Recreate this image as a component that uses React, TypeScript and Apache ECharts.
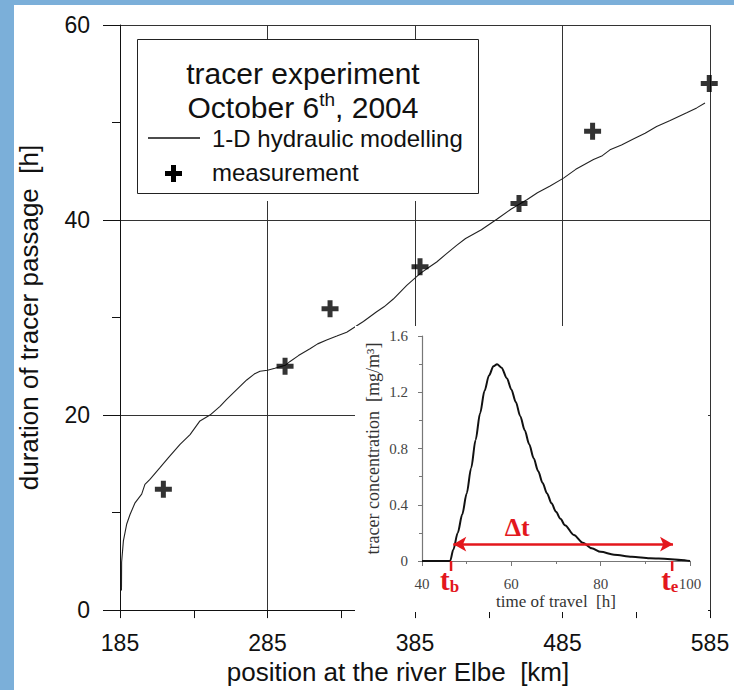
import React, { useEffect, useRef } from "react";
import * as echarts from "echarts";

// ---------- data ----------
const X0 = 185; // first km of the main x axis
const xTickLabels = [185, 285, 385, 485, 585];

const modelKm = [186, 186.1, 187.3, 189.5, 191.8, 195.2, 199.7, 201.9, 205.3, 212.1, 217.7, 225.7, 232.5, 239.2, 246, 252.8, 257.3, 264.1, 270.9, 276, 279.9, 285, 290, 297, 300.3, 306, 313.8, 319, 325.1, 332, 338.7, 345, 350, 359, 364, 370.3, 379.4, 388.4, 394, 399.7, 406, 413.2, 419.3, 430, 440.7, 450, 461.1, 468, 476.6, 485.7, 494, 506, 512, 517.2, 525, 533, 541, 548.8, 558, 569.2, 576, 581.6];
const modelHours = [2.0, 4.9, 7.1, 8.8, 9.8, 11.0, 11.9, 12.9, 13.4, 14.6, 15.6, 17.0, 18.0, 19.4, 20.0, 20.9, 21.6, 22.6, 23.6, 24.2, 24.5, 24.6, 24.8, 25.1, 25.5, 26.1, 26.8, 27.3, 27.7, 28.1, 28.5, 29.1, 29.6, 30.6, 31.1, 31.9, 33.3, 34.5, 35.1, 35.7, 36.5, 37.4, 38.1, 39.0, 40.1, 41.1, 42.1, 42.8, 43.5, 44.3, 45.2, 46.2, 46.6, 47.2, 47.7, 48.3, 48.9, 49.6, 50.2, 51.0, 51.5, 52.0];

const measKm = [214.4, 296.9, 327.4, 388.4, 455.5, 505.4, 584.5];
const measHours = [12.4, 25.0, 30.9, 35.2, 41.7, 49.1, 54.0];

const insetTime = [40, 46.3, 47, 48, 49, 50, 51, 52, 53, 54, 55, 56, 56.8, 57.8, 59, 60, 61, 62, 63, 64, 65, 66, 67, 68, 69, 70, 71, 72, 74, 76, 78, 80, 83, 87, 91, 95, 98, 100];
const insetConc = [0, 0, 0.08, 0.2, 0.33, 0.48, 0.66, 0.86, 1.05, 1.21, 1.32, 1.385, 1.4, 1.375, 1.3, 1.22, 1.13, 1.03, 0.93, 0.83, 0.73, 0.64, 0.555, 0.48, 0.41, 0.35, 0.3, 0.255, 0.185, 0.13, 0.09, 0.065, 0.045, 0.03, 0.02, 0.015, 0.008, 0];

const arrowSpan = [47.0, 96.2];
const arrowLevel = 0.12;
const markTimes = [46.5, 96.0];
const markSubs = ["b", "e"];
const deltaPos = [61.3, 0.235];

const PLUS = "path://M6,0H11V6H17V11H11V17H6V11H0V6H6Z";
const SANS = "Liberation Sans";
const SERIF = "Liberation Serif";
const RED = "#e3171d";
const BLUE = "#7bafd9";

export default function App() {
  const ref = useRef<HTMLDivElement>(null);
  useEffect(() => {
    if (!ref.current) return;
    const chart = echarts.init(ref.current, undefined, { renderer: "svg" });
    const option: any = {
      animation: false,
      backgroundColor: "#fff",
      grid: [
        { left: 120, top: 25, right: 24, bottom: 77, containLabel: false },
        { left: 422, top: 336, width: 268, height: 225, containLabel: false },
      ],
      xAxis: [
        {
          type: "value",
          gridIndex: 0,
          min: 0,
          max: 400,
          interval: 100,
          axisLine: { show: true, onZero: false, lineStyle: { color: "#111", width: 1 } },
          axisTick: { show: true, length: 8, lineStyle: { color: "#111" } },
          minorTick: { show: true, splitNumber: 2, length: 8, lineStyle: { color: "#111" } },
          splitLine: { show: true, lineStyle: { color: "#333", width: 1 } },
          axisLabel: {
            margin: 21,
            fontFamily: SANS,
            fontSize: 23,
            color: "#111",
            formatter: (v: number) => (xTickLabels.includes(v + X0) ? String(v + X0) : ""),
          },
          name: "position at the river Elbe  [km]",
          nameLocation: "middle",
          nameGap: 44,
          nameTextStyle: { fontFamily: SANS, fontSize: 26, color: "#111", padding: [0, 34, 0, 0] },
          z: 0,
        },
        {
          type: "value",
          gridIndex: 1,
          min: 40,
          max: 100,
          interval: 20,
          axisLine: { show: true, onZero: false, lineStyle: { color: "#777", width: 1.2 } },
          axisTick: { show: true, length: 5, lineStyle: { color: "#777" } },
          minorTick: { show: true, splitNumber: 2, length: 3, lineStyle: { color: "#777" } },
          splitLine: { show: false },
          axisLabel: { margin: 15, fontFamily: SERIF, fontSize: 15, color: "#444" },
          name: "time of travel  [h]",
          nameLocation: "middle",
          nameGap: 32,
          nameTextStyle: { fontFamily: SERIF, fontSize: 17, color: "#333" },
          z: 6,
        },
      ],
      yAxis: [
        {
          type: "value",
          gridIndex: 0,
          min: 0,
          max: 60,
          interval: 20,
          axisLine: { show: true, onZero: false, lineStyle: { color: "#111", width: 1 } },
          axisTick: { show: true, length: 17, lineStyle: { color: "#111" } },
          minorTick: { show: true, splitNumber: 2, length: 8, lineStyle: { color: "#111" } },
          splitLine: { show: true, lineStyle: { color: "#333", width: 1 } },
          axisLabel: { margin: 30, fontFamily: SANS, fontSize: 23, color: "#111" },
          name: "duration of tracer passage  [h]",
          nameLocation: "middle",
          nameGap: 78,
          nameTextStyle: { fontFamily: SANS, fontSize: 26, color: "#111" },
          z: 0,
        },
        {
          type: "value",
          gridIndex: 1,
          min: 0,
          max: 1.6,
          interval: 0.4,
          axisLine: { show: true, onZero: false, lineStyle: { color: "#777", width: 1.2 } },
          axisTick: { show: true, length: 4, lineStyle: { color: "#777" } },
          minorTick: { show: true, splitNumber: 2, length: 3, lineStyle: { color: "#777" } },
          splitLine: { show: false },
          axisLabel: {
            margin: 14,
            fontFamily: SERIF,
            fontSize: 15,
            color: "#444",
            formatter: (v: number) => (v === 0 ? "0" : v.toFixed(1)),
          },
          name: "tracer concentration  [mg/m³]",
          nameLocation: "middle",
          nameGap: 40,
          nameTextStyle: { fontFamily: SERIF, fontSize: 18, color: "#333" },
          z: 6,
        },
      ],
      series: [
        {
          name: "1-D hydraulic modelling",
          type: "line",
          xAxisIndex: 0,
          yAxisIndex: 0,
          data: modelKm.map((k, i) => [k - X0, modelHours[i]]),
          showSymbol: false,
          symbol: "none",
          lineStyle: { color: "#222", width: 1.1 },
          z: 2,
        },
        {
          name: "measurement",
          type: "scatter",
          xAxisIndex: 0,
          yAxisIndex: 0,
          data: measKm.map((k, i) => [k - X0, measHours[i]]),
          symbol: PLUS,
          symbolSize: 17,
          itemStyle: { color: "#000" },
          clip: false,
          z: 3,
        },
        {
          name: "tracer concentration",
          type: "line",
          xAxisIndex: 1,
          yAxisIndex: 1,
          data: insetTime.map((t, i) => [t, insetConc[i]]),
          showSymbol: false,
          symbol: "none",
          smooth: 0.3,
          smoothMonotone: "x",
          lineStyle: { color: "#111", width: 2 },
          z: 7,
          markLine: {
            silent: true,
            symbol: ["arrow", "arrow"],
            symbolSize: [11, 13],
            label: { show: false },
            lineStyle: { color: RED, width: 2.5, type: "solid" },
            data: [[{ coord: [arrowSpan[0], arrowLevel] }, { coord: [arrowSpan[1], arrowLevel] }]],
            z: 8,
          },
        },
      ],
    };
    chart.setOption(option);

    const g: any[] = [];
    // blue frame bands
    g.push({ type: "rect", shape: { x: 0, y: 0, width: 14, height: 690 }, style: { fill: BLUE }, z: 20 });
    g.push({ type: "rect", shape: { x: 0, y: 0, width: 734, height: 5 }, style: { fill: BLUE }, z: 20 });
    // inset white background
    g.push({ type: "rect", shape: { x: 355, y: 326, width: 353, height: 286 }, style: { fill: "#fff" }, z: 5 });
    // legend box
    g.push({ type: "rect", shape: { x: 137, y: 39, width: 341, height: 162 }, style: { fill: "#fff" }, z: 5 });
    g.push({ type: "rect", shape: { x: 137.5, y: 39.5, width: 341, height: 154 }, style: { fill: "#fff", stroke: "#222", lineWidth: 1 }, z: 5 });
    g.push({
      type: "text", x: 303, y: 73, z: 6,
      style: { text: "tracer experiment", font: `30px "${SANS}"`, fill: "#111", align: "center", verticalAlign: "middle" },
    });
    g.push({
      type: "text", x: 303, y: 107, z: 6,
      style: {
        text: "{a|October 6}{s|th}{a|, 2004}",
        align: "center",
        verticalAlign: "middle",
        rich: {
          a: { fontFamily: SANS, fontSize: 30, lineHeight: 34, fill: "#111" },
          s: { fontFamily: SANS, fontSize: 19, lineHeight: 18, verticalAlign: "top", fill: "#111" },
        },
      },
    });
    g.push({ type: "line", shape: { x1: 148, y1: 138, x2: 200, y2: 138 }, style: { stroke: "#111", lineWidth: 1.6 }, z: 6 });
    g.push({
      type: "text", x: 212, y: 138, z: 6,
      style: { text: "1-D hydraulic modelling", font: `24px "${SANS}"`, fill: "#111", align: "left", verticalAlign: "middle" },
    });
    g.push({
      type: "polygon", z: 6,
      shape: { points: [[171, 165], [176, 165], [176, 171], [182, 171], [182, 176], [176, 176], [176, 182], [171, 182], [171, 176], [165, 176], [165, 171], [171, 171]] },
      style: { fill: "#000" },
    });
    g.push({
      type: "text", x: 212, y: 172, z: 6,
      style: { text: "measurement", font: `24px "${SANS}"`, fill: "#111", align: "left", verticalAlign: "middle" },
    });

    // red annotations in the inset, placed through the inset's scales
    markTimes.forEach((t, i) => {
      const p = chart.convertToPixel({ gridIndex: 1 } as any, [t, 0]) as number[];
      g.push({ type: "line", shape: { x1: p[0], y1: p[1], x2: p[0], y2: p[1] + 10 }, style: { stroke: RED, lineWidth: 2.5 }, z: 9 });
      g.push({
        type: "text", x: p[0] - 11, y: p[1] + 19, z: 9,
        style: {
          text: `{t|t}{s|${markSubs[i]}}`,
          align: "left",
          verticalAlign: "middle",
          fill: RED,
          rich: {
            t: { fontFamily: SERIF, fontWeight: "bold", fontSize: 29, lineHeight: 30, fill: RED },
            s: { fontFamily: SERIF, fontWeight: "bold", fontSize: 17, lineHeight: 14, verticalAlign: "bottom", fill: RED },
          },
        },
      });
    });
    const dp = chart.convertToPixel({ gridIndex: 1 } as any, deltaPos) as number[];
    g.push({
      type: "text", x: dp[0], y: dp[1], z: 9,
      style: { text: "Δt", font: `bold 26px "${SERIF}"`, fill: RED, align: "center", verticalAlign: "middle" },
    });

    chart.setOption({ graphic: g });
    return () => chart.dispose();
  }, []);
  return <div ref={ref} style={{ position: "fixed", left: 0, top: 0, width: 734, height: 690 }} />;
}
